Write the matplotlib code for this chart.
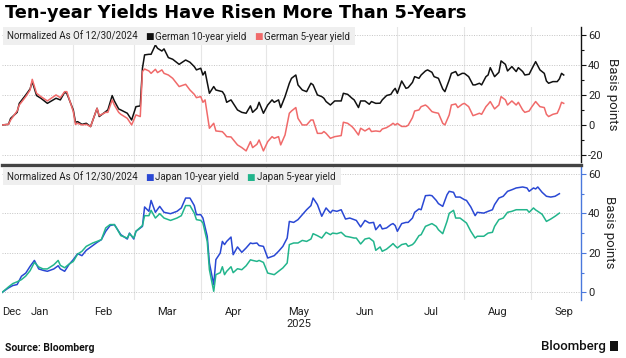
import matplotlib
matplotlib.use("Agg")
import matplotlib.pyplot as plt
import matplotlib.dates as mdates
import pandas as pd
from matplotlib.patches import Rectangle
from matplotlib.ticker import FixedLocator, FixedFormatter, NullFormatter, MultipleLocator

plt.rcParams['font.family'] = ['Roboto', 'DejaVu Sans']
plt.rcParams['axes.unicode_minus'] = False

# --- data (bp change since 12/30/2024) ---
dates_de = pd.to_datetime("""
2024-12-30 2025-01-02 2025-01-03 2025-01-06 2025-01-07 2025-01-10 2025-01-12 2025-01-13 2025-01-15 2025-01-17
2025-01-20 2025-01-24 2025-01-26 2025-01-28 2025-01-29 2025-02-01 2025-02-02 2025-02-03 2025-02-05 2025-02-07
2025-02-09 2025-02-12 2025-02-13 2025-02-16 2025-02-17 2025-02-19 2025-02-20 2025-02-22 2025-02-23 2025-02-26
2025-02-28 2025-03-02 2025-03-04 2025-03-05 2025-03-06 2025-03-08 2025-03-09 2025-03-11 2025-03-12 2025-03-14
2025-03-15 2025-03-17 2025-03-19 2025-03-22 2025-03-25 2025-03-27 2025-03-29 2025-03-30 2025-04-01 2025-04-02
2025-04-03 2025-04-05 2025-04-07 2025-04-08 2025-04-11 2025-04-12 2025-04-13 2025-04-15 2025-04-18 2025-04-20
2025-04-22 2025-04-24 2025-04-25 2025-04-27 2025-04-28 2025-04-30 2025-05-02 2025-05-04 2025-05-05 2025-05-07
2025-05-08 2025-05-10 2025-05-12 2025-05-13 2025-05-15 2025-05-16 2025-05-18 2025-05-20 2025-05-22 2025-05-23
2025-05-25 2025-05-27 2025-05-28 2025-05-29 2025-05-31 2025-06-02 2025-06-05 2025-06-06 2025-06-08 2025-06-10
2025-06-11 2025-06-13 2025-06-14 2025-06-16 2025-06-18 2025-06-19 2025-06-21 2025-06-23 2025-06-24 2025-06-26
2025-06-28 2025-06-29 2025-06-30 2025-07-01 2025-07-03 2025-07-05 2025-07-06 2025-07-08 2025-07-09 2025-07-11
2025-07-12 2025-07-14 2025-07-15 2025-07-17 2025-07-18 2025-07-20 2025-07-22 2025-07-23 2025-07-25 2025-07-26
2025-07-28 2025-07-29 2025-07-31 2025-08-01 2025-08-03 2025-08-05 2025-08-06 2025-08-08 2025-08-09 2025-08-11
2025-08-12 2025-08-13 2025-08-15 2025-08-17 2025-08-18 2025-08-20 2025-08-21 2025-08-23 2025-08-25 2025-08-26
2025-08-28 2025-08-29 2025-08-31 2025-09-01 2025-09-03 2025-09-05 2025-09-07 2025-09-08 2025-09-09 2025-09-11
2025-09-13 2025-09-14 2025-09-15 2025-09-16
""".split())

de10 = [0, 0.4, 4.4, 8.4, 14.4, 20, 24, 28.9, 19.6, 17.8,
        14.4, 17.8, 16.7, 21.8, 21, 10, 1.8, 2.2, 0.4, 1.1,
        -1.1, 11.1, 5.6, 8.9, 10, 19.6, 16, 10.7, 10, 7.8,
        3.3, 12.2, 12.7, 37.8, 46.7, 47.1, 47.1, 53.3, 51.1, 49.3,
        50.7, 44.9, 43.8, 40.4, 43.3, 41.8, 38.9, 36.7, 37.8, 33.3,
        35.6, 21.1, 25.6, 23.3, 22.2, 20, 15.1, 16.7, 10, 8.4,
        7.8, 12.7, 8.4, 11.1, 15.1, 7.8, 13.3, 16.7, 15.1, 16.7,
        11.6, 18.9, 27.8, 31.1, 33.3, 26.7, 23.3, 22.2, 27.8, 26.7,
        20, 18.9, 17.8, 15.6, 13.3, 16, 16, 21.1, 20.4, 17.8,
        16.7, 11.6, 16, 16, 13.8, 15.6, 14.4, 14.5, 16.7, 19.6,
        20.4, 22.7, 24.4, 21.1, 29.3, 24.4, 24.9, 28.4, 32.2, 31.1,
        33.3, 36, 36.7, 35.1, 32.2, 31.1, 24, 22.2, 30, 34.4,
        35.6, 32.9, 34.4, 34.4, 32.2, 26.7, 26.7, 27.8, 26.7, 32.2,
        33.3, 38.2, 32.2, 35.1, 42.7, 40.4, 36, 38.9, 35.6, 38.2,
        35.6, 33.3, 33.8, 36.7, 42.2, 36.7, 34.4, 29.3, 27.8, 28.9,
        28.9, 30.7, 34.4, 33.3]

de5 = [0, 0.4, 3.3, 9.3, 13.3, 18.9, 23.3, 30.4, 21.1, 18.9,
       16, 20, 18.2, 22.2, 22.2, 8.9, 0.4, 1.1, 0, 0.4,
       -1.1, 11.1, 6.2, 8.4, 8.4, 16.7, 13.3, 8.4, 7.1, 4.4,
       0, 6.7, 5.6, 35.6, 37.3, 36, 34.4, 37.1, 34.9, 36.7,
       34.4, 33.3, 31.1, 25.6, 27.1, 23.3, 20.4, 18.2, 18.9, 15.1,
       16.7, -2.2, 1.1, -4, -4.5, -6, -7.8, -8, -13.3, -15.1,
       -17.3, -11.1, -15.1, -12.9, -10, -17.3, -11.1, -7.8, -8.9, -7.8,
       -13.3, -6.7, 7.8, 9.3, 11.6, 4.4, 0, 0, 3.3, 3.3,
       -5.6, -5.6, -4.4, -5.6, -8.9, -7.8, -7.1, 1.8, 1.1, -1.1,
       -2.7, -6.7, -2.2, -4, -2.2, -4.4, -4, -4.4, -2.7, -1.8,
       0, 1.1, 0, 1, -1, -1, -0.2, 4.9, 9.3, 10,
       12.2, 13.3, 12.2, 8.9, 8.4, 7.8, 1.1, 0, 6.7, 13.3,
       14, 11.6, 13.8, 14.4, 12.2, 6.2, 6.7, 7.8, 7.1, 12.2,
       13.8, 15.6, 10.7, 13.3, 18.9, 16.7, 13.3, 16, 13.3, 15.1,
       10, 8.4, 9.3, 11.6, 15.6, 12.2, 11.6, 7.1, 5.6, 7.1,
       7.8, 11, 15.1, 14.4]

dates_jp = pd.to_datetime("""
2024-12-30 2025-01-02 2025-01-04 2025-01-06 2025-01-08 2025-01-10 2025-01-12 2025-01-14 2025-01-16 2025-01-18
2025-01-20 2025-01-23 2025-01-25 2025-01-26 2025-01-28 2025-01-30 2025-02-01 2025-02-03 2025-02-05 2025-02-07
2025-02-10 2025-02-12 2025-02-14 2025-02-16 2025-02-18 2025-02-20 2025-02-21 2025-02-23 2025-02-26 2025-02-27
2025-03-01 2025-03-02 2025-03-05 2025-03-06 2025-03-08 2025-03-09 2025-03-11 2025-03-13 2025-03-15 2025-03-18
2025-03-21 2025-03-23 2025-03-25 2025-03-27 2025-03-29 2025-03-30 2025-04-01 2025-04-02 2025-04-04 2025-04-05
2025-04-07 2025-04-08 2025-04-10 2025-04-11 2025-04-12 2025-04-13 2025-04-15 2025-04-16 2025-04-18 2025-04-20
2025-04-22 2025-04-24 2025-04-25 2025-04-27 2025-04-28 2025-04-30 2025-05-02 2025-05-05 2025-05-07 2025-05-09
2025-05-11 2025-05-12 2025-05-14 2025-05-16 2025-05-18 2025-05-20 2025-05-22 2025-05-23 2025-05-25 2025-05-27
2025-05-29 2025-05-31 2025-06-01 2025-06-03 2025-06-05 2025-06-07 2025-06-09 2025-06-11 2025-06-12 2025-06-14
2025-06-16 2025-06-18 2025-06-20 2025-06-21 2025-06-23 2025-06-24 2025-06-26 2025-06-28 2025-06-29 2025-06-30
2025-07-01 2025-07-03 2025-07-05 2025-07-06 2025-07-08 2025-07-09 2025-07-11 2025-07-12 2025-07-14 2025-07-16
2025-07-17 2025-07-19 2025-07-20 2025-07-22 2025-07-24 2025-07-25 2025-07-27 2025-07-28 2025-07-30 2025-08-01
2025-08-02 2025-08-04 2025-08-06 2025-08-07 2025-08-10 2025-08-12 2025-08-14 2025-08-15 2025-08-17 2025-08-19
2025-08-21 2025-08-23 2025-08-25 2025-08-28 2025-08-30 2025-08-31 2025-09-02 2025-09-03 2025-09-04 2025-09-06
2025-09-08 2025-09-10 2025-09-12 2025-09-14
""".split())

jp10 = [0, 2.3, 3.5, 4, 8.2, 9.8, 13.2, 16.2, 11.9, 11.2,
        10.7, 11.9, 13.5, 11.9, 10.7, 14.1, 16.6, 19.6, 18.6, 21.3,
        23.7, 25.3, 26.7, 30.9, 33.8, 34.3, 32.6, 29.2, 27, 30,
        27, 30.9, 33.4, 43.2, 41, 46.5, 40.5, 43.5, 40.5, 39.8,
        41, 42.7, 47.7, 47.7, 43.9, 39.3, 39.3, 37.6, 28.4, 14.9,
        3.9, 16.6, 19.9, 25.8, 24.2, 25.8, 28, 19.1, 23, 20.3,
        22.5, 25, 24.7, 25, 23.7, 23.3, 17.4, 18.6, 20.8, 23.3,
        27.5, 35.9, 35.4, 36.8, 39.3, 41.8, 43.9, 47.7, 44.4, 38.5,
        42.7, 40.2, 41.5, 41, 41.8, 37.1, 37.6, 36.8, 36.4, 33.1,
        36.4, 35.1, 35.4, 31.7, 34.3, 32.1, 32.6, 34.3, 34.8, 33.8,
        30.9, 34.8, 35.4, 35.4, 37.6, 40.5, 42.2, 41.8, 48.9, 49.1,
        48.9, 46.5, 44.9, 43.5, 49.4, 51.1, 50.6, 48.2, 48.2, 46.9,
        46.5, 43.2, 38.8, 40.5, 40.1, 41, 41.8, 44.4, 47.7, 48.6,
        51.1, 51.9, 52.8, 53.3, 52.8, 51.1, 52.8, 52.3, 53.3, 50.6,
        48.6, 48.2, 48.6, 49.9]

jp5 = [0, 2.8, 4.5, 5.4, 6.5, 8.3, 11, 15.2, 12.9, 11.9,
       11.9, 14, 16.2, 13.7, 12.5, 14.3, 15.7, 19.4, 20.8, 23.3,
       25, 25.8, 26.7, 32.6, 34.3, 34.3, 32.6, 28.7, 27.5, 29.7,
       27.5, 30.9, 33.8, 38.8, 38.8, 41.5, 37.6, 39.8, 37.6, 36.4,
       37.6, 38.8, 43.9, 43.9, 40.1, 36.8, 36.4, 35.1, 25.8, 11.5,
       0.6, 9, 10, 13, 9, 10.7, 13, 10, 12, 11.5,
       13.5, 16.5, 16.2, 15.7, 16.2, 15.2, 9.8, 9, 10.7, 12.4,
       14.9, 24.2, 25, 25, 26.3, 25.8, 27, 29.7, 28.7, 27.5,
       30.4, 29.2, 30, 29.7, 30.4, 28.4, 28, 27.5, 27.5, 24.5,
       27, 27.5, 25.8, 21.3, 23, 20.8, 21.9, 23.7, 24.7, 23.5,
       22.5, 24.2, 24.7, 23.3, 24.2, 25.3, 28.7, 29.2, 33.4, 34.3,
       34.8, 33.4, 31.7, 29.7, 36, 40, 41.5, 37.6, 37.6, 35.9,
       35.1, 30.9, 27.5, 28.4, 28.4, 30, 30.4, 33.4, 36.8, 37.6,
       40.5, 41, 41.8, 41.8, 41.8, 40.5, 42.7, 41.7, 41, 39.5,
       35.9, 37.1, 38.5, 40.1]

month_names = ["Jan", "Feb", "Mar", "Apr", "May\n2025", "Jun", "Jul", "Aug", "Sep"]

title = "Ten-year Yields Have Risen More Than 5-Years"
note = "Normalized As Of 12/30/2024"

C_DE10, C_DE5 = "#111111", "#f06a6a"
C_JP10, C_JP5 = "#2a48d4", "#22b58c"

# --- layout (pixel boxes on a 626x358 canvas) ---
W, H = 626, 358
fig = plt.figure(figsize=(W / 100, H / 100), dpi=100)


def box(x0, y0, x1, y1):
    return [x0 / W, 1 - y1 / H, (x1 - x0) / W, (y1 - y0) / H]


ax1 = fig.add_axes(box(2, 27, 581, 162))
ax2 = fig.add_axes(box(2, 165, 581, 300), sharex=ax1)

ax1.plot(dates_de, de10, color=C_DE10, lw=1.1, zorder=2)
ax1.plot(dates_de, de5, color=C_DE5, lw=1.1, zorder=2)
ax2.plot(dates_jp, jp10, color=C_JP10, lw=1.1, zorder=2)
ax2.plot(dates_jp, jp5, color=C_JP5, lw=1.1, zorder=2)

x_start = pd.Timestamp("2024-12-30")
ax1.set_xlim(x_start, pd.Timestamp("2025-09-24"))
ax1.set_ylim(-24.7, 65.3)
ax2.set_ylim(-3.8, 64.4)

month_starts = pd.date_range("2025-01-01", "2025-10-01", freq="MS")
mids = [a + (b - a) / 2 for a, b in zip(month_starts[:-1], month_starts[1:])]

ax2.xaxis.set_major_locator(FixedLocator(mdates.date2num(month_starts[1:-1])))
ax2.xaxis.set_major_formatter(NullFormatter())
ax2.xaxis.set_minor_locator(FixedLocator(mdates.date2num([x_start] + mids)))
ax2.xaxis.set_minor_formatter(FixedFormatter(["Dec"] + month_names))
ax1.tick_params(axis="x", which="both", length=0, labelbottom=False)
ax2.tick_params(axis="x", which="both", length=0, labelsize=8, labelcolor="#222222", pad=5)
for lab in ax2.get_xticklabels(minor=True):
    lab.set_linespacing(1.25)
ax2.get_xticklabels(minor=True)[0].set_ha("left")

for ax, scol in ((ax1, "#111111"), (ax2, "#4a78dc")):
    for s in ("left", "top", "bottom"):
        ax.spines[s].set_visible(False)
    ax.spines["right"].set_color(scol)
    ax.spines["right"].set_linewidth(1.0)
    ax.yaxis.tick_right()
    ax.yaxis.set_label_position("right")
    ax.yaxis.set_major_locator(MultipleLocator(20))
    ax.yaxis.set_minor_locator(MultipleLocator(10))
    ax.tick_params(axis="y", which="major", length=3.5, width=0.8, color=scol,
                   labelsize=8, labelcolor="#222222", pad=1.5)
    ax.tick_params(axis="y", which="minor", length=2, width=0.8, color=scol)
    ax.grid(axis="y", which="major", linestyle=(0, (1, 1.5)), color="#c4c4c4", lw=0.7)
    ax.grid(axis="x", which="major", color="#e6e6e6", lw=0.8)
    ax.set_ylabel("Basis points", rotation=270, fontsize=9.5, color="#222222", labelpad=11)
    ax.set_axisbelow(True)

ax2.spines["top"].set_visible(True)
ax2.spines["top"].set_color("#444444")
ax2.spines["top"].set_linewidth(2.4)


def legend_band(ax, width, y0, y1, items):
    ax.add_patch(Rectangle((0.002, y0), width, y1 - y0, transform=ax.transAxes,
                           facecolor="#efefef", edgecolor="none", zorder=3))
    yc = (y0 + y1) / 2
    t = ax.text(0.009, yc, note, transform=ax.transAxes, va="center_baseline", ha="left",
                fontsize=7, color="#222222", zorder=4)
    for label, color in items:
        sq = ax.annotate("■", xy=(1, yc), xycoords=(t, "axes fraction"), xytext=(5, 0),
                         textcoords="offset points", va="center_baseline", ha="left",
                         fontsize=6.5, color=color, family="DejaVu Sans", zorder=4)
        t = ax.annotate(label, xy=(1, yc), xycoords=(sq, "axes fraction"), xytext=(1.5, 0),
                        textcoords="offset points", va="center_baseline", ha="left",
                        fontsize=7, color="#222222", zorder=4)


legend_band(ax1, 0.608, 0.868, 1.0, [("German 10-year yield", C_DE10), ("German 5-year yield", C_DE5)])
legend_band(ax2, 0.583, 0.852, 0.978, [("Japan 10-year yield", C_JP10), ("Japan 5-year yield", C_JP5)])

fig.text(5 / W, 1 - 17.5 / H, title, fontsize=12.8, weight="bold", family="DejaVu Sans",
         va="baseline", ha="left", color="#000000")
fig.text(5 / W, 1 - 351 / H, "Source: Bloomberg", fontsize=7.5, weight="bold", va="baseline", ha="left", color="#111111")
fig.text(606 / W, 1 - 350 / H, "Bloomberg", fontsize=9.5, weight="medium", va="baseline", ha="right", color="#111111")
fig.add_artist(Rectangle((610 / W, 1 - 351 / H), 8 / W, 10 / H, transform=fig.transFigure,
                         facecolor="#111111", edgecolor="none"))

fig.savefig("out.png", dpi=100)
